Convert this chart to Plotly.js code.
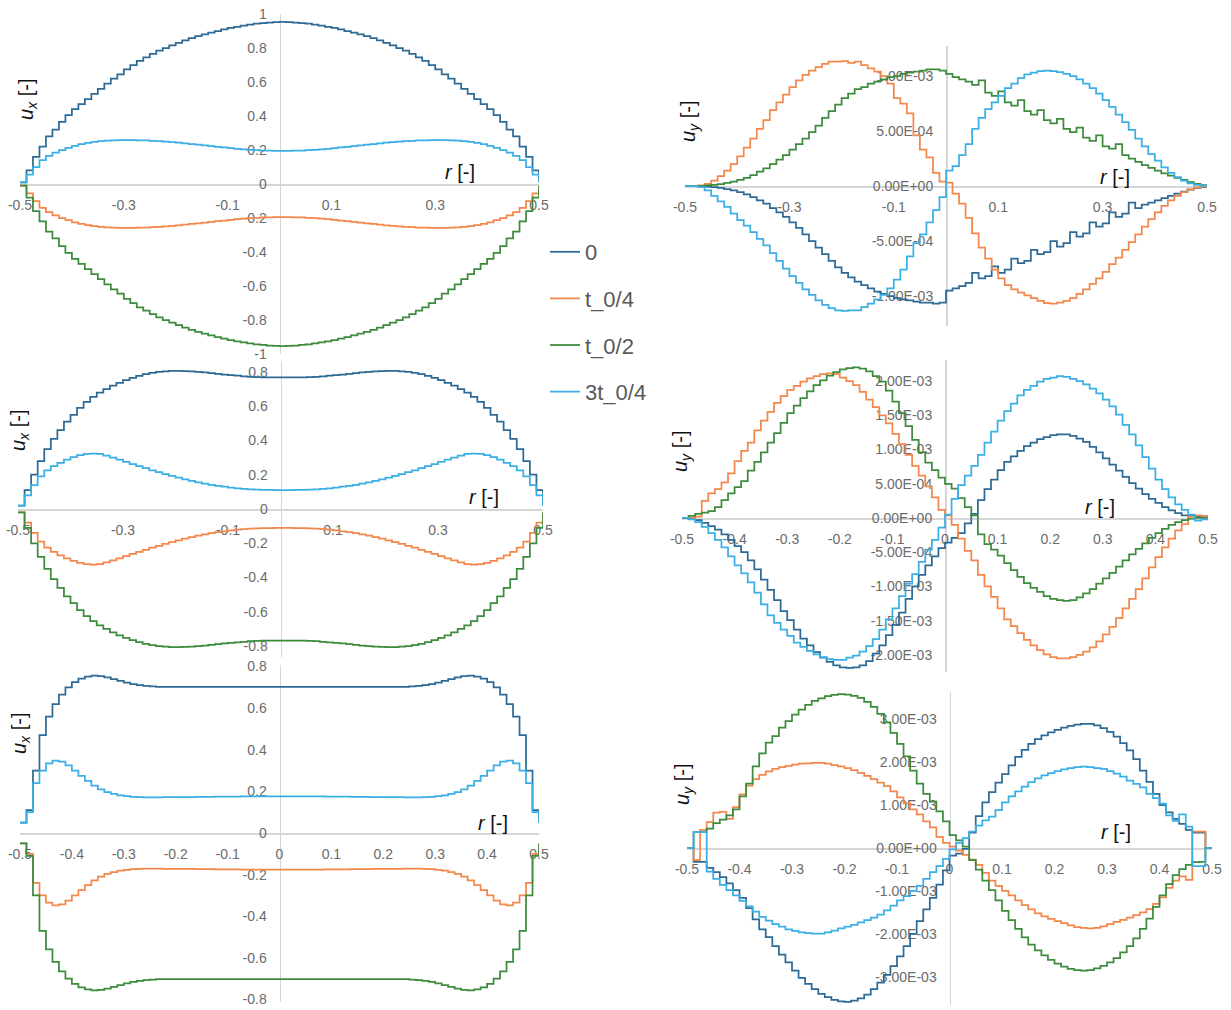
<!DOCTYPE html>
<html>
<head>
<meta charset="utf-8">
<script src="https://cdn.plot.ly/plotly-3.0.1.min.js"></script>
<style>
  html, body { margin: 0; padding: 0; background: #ffffff; }
  #chart { width: 1231px; height: 1010px; }
</style>
</head>
<body>
<div id="chart"></div>
<script>
// Radial position across the channel
const r = [-0.5,-0.4875,-0.475,-0.4625,-0.45,-0.4375,-0.425,-0.4125,-0.4,-0.3875,-0.375,-0.3625,-0.35,-0.3375,-0.325,-0.3125,-0.3,-0.2875,-0.275,-0.2625,-0.25,-0.2375,-0.225,-0.2125,-0.2,-0.1875,-0.175,-0.1625,-0.15,-0.1375,-0.125,-0.1125,-0.1,-0.0875,-0.075,-0.0625,-0.05,-0.0375,-0.025,-0.0125,0,0.0125,0.025,0.0375,0.05,0.0625,0.075,0.0875,0.1,0.1125,0.125,0.1375,0.15,0.1625,0.175,0.1875,0.2,0.2125,0.225,0.2375,0.25,0.2625,0.275,0.2875,0.3,0.3125,0.325,0.3375,0.35,0.3625,0.375,0.3875,0.4,0.4125,0.425,0.4375,0.45,0.4625,0.475,0.4875,0.5];

// Phase labels
const phases = ['0', 't_0/4', 't_0/2', '3t_0/4'];

// ---- u_x profiles, case 1 ----
const ux1_0  = [0.01,0.08,0.16,0.22,0.28,0.32,0.365,0.405,0.44,0.47,0.50,0.53,0.56,0.59,0.62,0.645,0.675,0.70,0.725,0.745,0.765,0.785,0.80,0.815,0.83,0.845,0.858,0.87,0.88,0.89,0.90,0.91,0.918,0.925,0.932,0.938,0.943,0.947,0.95,0.952,0.953,0.952,0.95,0.947,0.943,0.938,0.932,0.925,0.918,0.91,0.90,0.89,0.88,0.87,0.858,0.845,0.83,0.815,0.80,0.785,0.765,0.745,0.725,0.70,0.675,0.645,0.62,0.59,0.56,0.53,0.50,0.47,0.44,0.405,0.365,0.32,0.28,0.22,0.16,0.08,0.01];
const ux1_q1 = [-0.01,-0.055,-0.10,-0.14,-0.165,-0.185,-0.20,-0.213,-0.225,-0.235,-0.242,-0.248,-0.252,-0.255,-0.257,-0.258,-0.258,-0.258,-0.257,-0.256,-0.254,-0.252,-0.249,-0.246,-0.243,-0.239,-0.235,-0.231,-0.227,-0.223,-0.219,-0.215,-0.211,-0.207,-0.204,-0.201,-0.199,-0.197,-0.196,-0.195,-0.195,-0.195,-0.196,-0.197,-0.199,-0.201,-0.204,-0.207,-0.211,-0.215,-0.219,-0.223,-0.227,-0.231,-0.235,-0.239,-0.243,-0.246,-0.249,-0.252,-0.254,-0.256,-0.257,-0.258,-0.258,-0.258,-0.257,-0.255,-0.252,-0.248,-0.242,-0.235,-0.225,-0.213,-0.20,-0.185,-0.165,-0.14,-0.10,-0.055,-0.01];
const ux1_q2 = [-0.01,-0.08,-0.16,-0.22,-0.28,-0.32,-0.365,-0.405,-0.44,-0.47,-0.50,-0.53,-0.56,-0.59,-0.62,-0.645,-0.675,-0.70,-0.725,-0.745,-0.765,-0.785,-0.80,-0.815,-0.83,-0.845,-0.858,-0.87,-0.88,-0.89,-0.90,-0.91,-0.918,-0.925,-0.932,-0.938,-0.943,-0.947,-0.95,-0.952,-0.953,-0.952,-0.95,-0.947,-0.943,-0.938,-0.932,-0.925,-0.918,-0.91,-0.90,-0.89,-0.88,-0.87,-0.858,-0.845,-0.83,-0.815,-0.80,-0.785,-0.765,-0.745,-0.725,-0.70,-0.675,-0.645,-0.62,-0.59,-0.56,-0.53,-0.50,-0.47,-0.44,-0.405,-0.365,-0.32,-0.28,-0.22,-0.16,-0.08,-0.01];
const ux1_q3 = [0.01,0.055,0.10,0.14,0.165,0.185,0.20,0.213,0.225,0.235,0.242,0.248,0.252,0.255,0.257,0.258,0.258,0.258,0.257,0.256,0.254,0.252,0.249,0.246,0.243,0.239,0.235,0.231,0.227,0.223,0.219,0.215,0.211,0.207,0.204,0.201,0.199,0.197,0.196,0.195,0.195,0.195,0.196,0.197,0.199,0.201,0.204,0.207,0.211,0.215,0.219,0.223,0.227,0.231,0.235,0.239,0.243,0.246,0.249,0.252,0.254,0.256,0.257,0.258,0.258,0.258,0.257,0.255,0.252,0.248,0.242,0.235,0.225,0.213,0.20,0.185,0.165,0.14,0.10,0.055,0.01];

// ---- u_x profiles, case 2 ----
const ux2_0  = [0.02,0.11,0.20,0.28,0.35,0.41,0.46,0.51,0.55,0.59,0.625,0.655,0.68,0.70,0.72,0.737,0.752,0.765,0.777,0.787,0.795,0.80,0.804,0.806,0.806,0.805,0.803,0.80,0.797,0.793,0.789,0.785,0.781,0.778,0.775,0.772,0.77,0.769,0.768,0.768,0.768,0.768,0.768,0.769,0.77,0.772,0.775,0.778,0.781,0.785,0.789,0.793,0.797,0.80,0.803,0.805,0.806,0.806,0.804,0.80,0.795,0.787,0.777,0.765,0.752,0.737,0.72,0.70,0.68,0.655,0.625,0.59,0.55,0.51,0.46,0.41,0.35,0.28,0.20,0.11,0.02];
const ux2_q1 = [-0.02,-0.08,-0.14,-0.19,-0.225,-0.25,-0.27,-0.288,-0.303,-0.315,-0.322,-0.324,-0.322,-0.312,-0.30,-0.288,-0.275,-0.262,-0.25,-0.238,-0.226,-0.215,-0.204,-0.193,-0.183,-0.173,-0.164,-0.156,-0.148,-0.141,-0.135,-0.13,-0.125,-0.121,-0.118,-0.115,-0.113,-0.112,-0.111,-0.11,-0.11,-0.11,-0.111,-0.112,-0.113,-0.115,-0.118,-0.121,-0.125,-0.13,-0.135,-0.141,-0.148,-0.156,-0.164,-0.173,-0.183,-0.193,-0.204,-0.215,-0.226,-0.238,-0.25,-0.262,-0.275,-0.288,-0.30,-0.312,-0.322,-0.324,-0.322,-0.315,-0.303,-0.288,-0.27,-0.25,-0.225,-0.19,-0.14,-0.08,-0.02];
const ux2_q2 = [-0.02,-0.11,-0.20,-0.28,-0.35,-0.41,-0.46,-0.51,-0.55,-0.59,-0.625,-0.655,-0.68,-0.70,-0.72,-0.737,-0.752,-0.765,-0.777,-0.787,-0.795,-0.80,-0.804,-0.806,-0.806,-0.805,-0.803,-0.80,-0.797,-0.793,-0.789,-0.785,-0.781,-0.778,-0.775,-0.772,-0.77,-0.769,-0.768,-0.768,-0.768,-0.768,-0.768,-0.769,-0.77,-0.772,-0.775,-0.778,-0.781,-0.785,-0.789,-0.793,-0.797,-0.80,-0.803,-0.805,-0.806,-0.806,-0.804,-0.80,-0.795,-0.787,-0.777,-0.765,-0.752,-0.737,-0.72,-0.70,-0.68,-0.655,-0.625,-0.59,-0.55,-0.51,-0.46,-0.41,-0.35,-0.28,-0.20,-0.11,-0.02];
const ux2_q3 = [0.02,0.08,0.14,0.19,0.225,0.25,0.27,0.288,0.303,0.315,0.322,0.324,0.322,0.312,0.30,0.288,0.275,0.262,0.25,0.238,0.226,0.215,0.204,0.193,0.183,0.173,0.164,0.156,0.148,0.141,0.135,0.13,0.125,0.121,0.118,0.115,0.113,0.112,0.111,0.11,0.11,0.11,0.111,0.112,0.113,0.115,0.118,0.121,0.125,0.13,0.135,0.141,0.148,0.156,0.164,0.173,0.183,0.193,0.204,0.215,0.226,0.238,0.25,0.262,0.275,0.288,0.30,0.312,0.322,0.324,0.322,0.315,0.303,0.288,0.27,0.25,0.225,0.19,0.14,0.08,0.02];

// ---- u_x profiles, case 3 ----
const ux3_0  = [0.05,0.11,0.30,0.47,0.56,0.62,0.665,0.70,0.725,0.742,0.752,0.756,0.754,0.748,0.74,0.731,0.723,0.716,0.711,0.707,0.705,0.703,0.702,0.702,0.702,0.702,0.702,0.702,0.702,0.702,0.702,0.702,0.702,0.702,0.702,0.702,0.702,0.702,0.702,0.702,0.702,0.702,0.702,0.702,0.702,0.702,0.702,0.702,0.702,0.702,0.702,0.702,0.702,0.702,0.702,0.702,0.702,0.702,0.702,0.703,0.705,0.707,0.711,0.716,0.723,0.731,0.74,0.748,0.754,0.756,0.752,0.742,0.725,0.70,0.665,0.62,0.56,0.47,0.30,0.11,0.05];
const ux3_q1 = [-0.05,-0.10,-0.24,-0.30,-0.335,-0.348,-0.343,-0.325,-0.30,-0.275,-0.25,-0.228,-0.21,-0.197,-0.188,-0.181,-0.177,-0.174,-0.172,-0.171,-0.171,-0.171,-0.172,-0.172,-0.173,-0.173,-0.173,-0.174,-0.174,-0.174,-0.175,-0.175,-0.175,-0.175,-0.176,-0.176,-0.176,-0.176,-0.176,-0.176,-0.176,-0.176,-0.176,-0.176,-0.176,-0.176,-0.176,-0.175,-0.175,-0.175,-0.175,-0.174,-0.174,-0.174,-0.173,-0.173,-0.173,-0.172,-0.172,-0.171,-0.171,-0.171,-0.172,-0.174,-0.177,-0.181,-0.188,-0.197,-0.21,-0.228,-0.25,-0.275,-0.30,-0.325,-0.343,-0.348,-0.335,-0.30,-0.24,-0.10,-0.05];
const ux3_q2 = [-0.05,-0.11,-0.30,-0.47,-0.56,-0.62,-0.665,-0.70,-0.725,-0.742,-0.752,-0.756,-0.754,-0.748,-0.74,-0.731,-0.723,-0.716,-0.711,-0.707,-0.705,-0.703,-0.702,-0.702,-0.702,-0.702,-0.702,-0.702,-0.702,-0.702,-0.702,-0.702,-0.702,-0.702,-0.702,-0.702,-0.702,-0.702,-0.702,-0.702,-0.702,-0.702,-0.702,-0.702,-0.702,-0.702,-0.702,-0.702,-0.702,-0.702,-0.702,-0.702,-0.702,-0.702,-0.702,-0.702,-0.702,-0.702,-0.702,-0.703,-0.705,-0.707,-0.711,-0.716,-0.723,-0.731,-0.74,-0.748,-0.754,-0.756,-0.752,-0.742,-0.725,-0.70,-0.665,-0.62,-0.56,-0.47,-0.30,-0.11,-0.05];
const ux3_q3 = [0.05,0.10,0.24,0.30,0.335,0.348,0.343,0.325,0.30,0.275,0.25,0.228,0.21,0.197,0.188,0.181,0.177,0.174,0.172,0.171,0.171,0.171,0.172,0.172,0.173,0.173,0.173,0.174,0.174,0.174,0.175,0.175,0.175,0.175,0.176,0.176,0.176,0.176,0.176,0.176,0.176,0.176,0.176,0.176,0.176,0.176,0.176,0.175,0.175,0.175,0.175,0.174,0.174,0.174,0.173,0.173,0.173,0.172,0.172,0.171,0.171,0.171,0.172,0.174,0.177,0.181,0.188,0.197,0.21,0.228,0.25,0.275,0.30,0.325,0.343,0.348,0.335,0.30,0.24,0.10,0.05];

// ---- u_y profiles (values in units of 1e-4) ----
const UY_UNIT = 1e-4;
const uy1_0  = [0,0,-0.02,-0.05,-0.1,-0.18,-0.28,-0.4,-0.55,-0.75,-1.0,-1.3,-1.6,-2.0,-2.4,-2.8,-3.3,-3.8,-4.4,-5.0,-5.6,-6.2,-6.8,-7.4,-7.9,-8.3,-8.7,-9.0,-9.3,-9.6,-9.8,-10.0,-10.2,-10.3,-10.4,-10.5,-10.6,-10.6,-10.7,-10.6,-9.5,-9.3,-9.1,-8.8,-7.9,-8.4,-8.2,-7.3,-7.9,-7.6,-6.6,-7.0,-6.8,-5.8,-6.2,-6.0,-5.0,-5.5,-5.2,-4.2,-4.6,-4.3,-3.3,-3.7,-3.4,-2.4,-2.8,-2.5,-1.5,-2.0,-1.7,-1.5,-1.3,-1.1,-0.9,-0.7,-0.5,-0.33,-0.18,-0.07,0];
const uy1_q1 = [0,0,0.05,0.2,0.5,0.9,1.4,2.0,2.7,3.5,4.3,5.2,6.0,6.9,7.6,8.3,9.0,9.6,10.1,10.5,10.8,11.1,11.3,11.3,11.35,11.2,11.3,11.0,10.7,10.4,10.0,9.3,8.0,7.5,6.6,4.6,3.3,2.6,1.2,0.4,0.3,-0.7,-1.6,-2.9,-4.3,-5.6,-6.6,-7.6,-8.4,-9.0,-9.4,-9.7,-9.95,-10.2,-10.45,-10.65,-10.7,-10.6,-10.45,-10.2,-9.8,-9.4,-8.9,-8.4,-7.8,-7.1,-6.5,-5.8,-5.1,-4.4,-3.7,-3.0,-2.4,-1.8,-1.3,-0.9,-0.55,-0.3,-0.12,-0.03,0];
const uy1_q2 = [0,0,0.02,0.05,0.1,0.18,0.28,0.4,0.55,0.75,1.0,1.3,1.6,2.0,2.4,2.8,3.3,3.8,4.3,4.9,5.5,6.2,6.8,7.4,8.0,8.4,8.8,9.0,9.3,9.5,9.7,9.9,10.0,10.2,10.3,10.4,10.5,10.6,10.6,10.5,10.2,9.9,9.7,9.5,9.2,9.6,8.5,8.2,8.6,7.6,7.3,7.8,6.8,6.5,6.9,6.0,5.7,6.1,5.2,4.9,5.3,4.4,4.1,4.6,3.6,3.4,3.8,2.8,2.5,2.2,1.9,1.65,1.4,1.15,0.95,0.75,0.55,0.35,0.2,0.08,0];
const uy1_q3 = [0,0,-0.1,-0.4,-0.9,-1.4,-1.9,-2.5,-3.1,-3.6,-4.2,-4.8,-5.4,-6.1,-6.8,-7.5,-8.2,-8.8,-9.4,-9.9,-10.4,-10.8,-11.1,-11.3,-11.35,-11.3,-11.3,-11.0,-10.7,-10.3,-9.9,-9.3,-8.5,-7.6,-6.4,-5.2,-4.4,-3.3,-2.2,-1.0,1.4,1.8,2.8,3.8,5.2,6.2,7.0,7.6,8.2,8.9,9.3,9.8,10.15,10.3,10.45,10.5,10.45,10.35,10.2,10.0,9.7,9.3,8.9,8.4,7.8,7.2,6.5,5.8,5.1,4.3,3.6,2.9,2.3,1.7,1.2,0.8,0.5,0.25,0.1,0.03,0];

const uy2_0  = [0,-0.1,-0.3,-0.7,-1.2,-1.7,-2.4,-3.2,-4.1,-5.0,-6.2,-7.5,-9.0,-10.5,-12.0,-13.6,-14.9,-16.3,-17.6,-18.6,-19.6,-20.4,-21.0,-21.5,-21.8,-21.9,-21.8,-21.5,-20.9,-19.8,-18.6,-17.1,-15.6,-13.8,-11.8,-10.0,-8.3,-6.9,-5.6,-4.4,-3.6,-2.9,-2.2,-0.8,0.6,2.6,4.2,5.6,7.0,8.2,9.0,9.8,10.5,11.0,11.5,11.8,12.1,12.2,12.2,12.0,11.6,11.1,10.4,9.6,8.7,7.8,6.9,6.0,5.1,4.3,3.5,2.8,2.2,1.6,1.1,0.7,0.4,0.3,0.2,0.1,0];
const uy2_q1 = [0,0,0.2,2.5,3.6,4.2,5.2,6.5,8.3,9.8,11.0,12.8,14.2,15.5,16.8,17.8,18.7,19.3,19.9,20.4,20.7,21.0,21.1,21.0,20.5,20.0,19.4,18.4,17.3,16.2,15.0,13.8,12.3,10.8,9.2,7.6,6.2,4.6,3.0,1.2,0.4,-1.0,-3.0,-4.8,-6.2,-8.3,-10.0,-11.5,-13.2,-14.8,-15.8,-16.8,-17.8,-18.6,-19.3,-19.9,-20.3,-20.5,-20.5,-20.3,-20.0,-19.5,-18.9,-18.0,-17.0,-15.9,-14.6,-13.2,-11.8,-10.4,-8.8,-7.2,-5.7,-4.3,-3.0,-1.8,-0.9,0.2,0.4,0.3,0];
const uy2_q2 = [0,0.3,0.6,0.8,1.0,1.6,2.6,3.6,4.5,5.4,6.9,8.2,9.6,11.0,12.4,13.9,15.3,16.4,17.5,18.5,19.4,20.1,20.8,21.3,21.7,21.9,22.0,21.8,21.4,20.7,19.9,18.6,17.0,15.3,13.4,11.4,9.6,8.1,7.0,5.9,5.0,4.3,2.9,1.6,0.4,-2.4,-3.8,-4.6,-5.5,-6.6,-7.6,-8.6,-9.5,-10.2,-10.8,-11.4,-11.8,-12.0,-12.1,-12.0,-11.6,-11.0,-10.4,-9.6,-8.8,-8.0,-7.1,-6.2,-5.3,-4.5,-3.7,-2.9,-2.2,-1.6,-1.0,-0.6,-0.3,-0.1,0,0,0];
const uy2_q3 = [0,-0.2,-0.6,-1.3,-2.2,-3.2,-4.3,-5.6,-6.9,-8.1,-9.4,-10.9,-12.6,-14.2,-15.3,-16.3,-17.2,-18.2,-18.8,-19.4,-19.9,-20.3,-20.6,-20.7,-20.7,-20.4,-20.1,-19.5,-18.7,-17.7,-16.3,-14.8,-13.2,-11.4,-9.6,-8.2,-6.4,-4.6,-3.2,-1.4,0.5,2.8,4.8,6.2,7.6,9.2,11.0,12.6,14.2,15.6,16.7,17.9,18.7,19.3,19.9,20.3,20.5,20.7,20.6,20.3,20.0,19.5,18.9,18.2,17.3,16.3,15.1,13.6,12.2,10.6,8.9,7.2,5.6,4.2,3.0,2.0,1.2,0.5,-0.4,-0.2,0];

const uy3_0  = [0,-3.2,-3.2,-4.6,-5.6,-6.8,-8.2,-9.8,-11.6,-14.0,-16.6,-18.9,-20.7,-22.8,-24.8,-26.6,-28.5,-30.2,-31.6,-32.8,-33.9,-34.7,-35.3,-35.7,-35.8,-35.5,-35.0,-34.1,-32.8,-31.3,-29.5,-27.5,-25.2,-22.8,-20.0,-17.0,-14.3,-11.6,-8.5,-5.2,-1.8,-1.3,-0.2,3.6,7.4,10.6,13.0,15.2,17.2,19.2,21.2,22.8,24.2,25.3,26.2,26.9,27.5,28.0,28.4,28.7,28.9,28.9,28.5,27.9,27.0,25.9,24.4,22.7,20.7,18.0,15.4,12.6,10.0,8.3,6.8,5.6,4.2,3.6,3.6,0,0];
const uy3_q1 = [0,-2.8,4.2,6.0,8.2,8.4,6.8,9.5,12.5,14.5,16.0,17.0,17.8,18.4,18.8,19.1,19.4,19.6,19.7,19.8,19.8,19.6,19.3,19.0,18.6,18.1,17.5,16.8,16.0,15.2,14.4,13.2,11.8,10.4,9.0,7.8,6.2,4.8,2.6,1.2,0.3,-0.6,-1.6,-2.7,-3.9,-5.8,-7.6,-8.8,-10.0,-11.0,-12.2,-13.3,-14.3,-15.2,-15.9,-16.5,-17.0,-17.5,-18.0,-18.4,-18.6,-18.7,-18.6,-18.2,-17.7,-17.2,-16.7,-16.2,-15.6,-15.0,-14.2,-13.0,-11.5,-9.3,-7.6,-6.6,-7.4,3.8,3.8,0,0];
const uy3_q2 = [0,3.7,3.7,4.5,5.8,6.6,7.6,9.0,12.0,15.0,19.0,22.0,24.5,26.0,28.0,29.5,31.0,32.2,33.3,34.2,34.8,35.3,35.6,35.8,35.7,35.4,34.9,34.0,32.8,31.2,29.2,26.8,24.2,21.3,18.0,15.0,12.6,10.8,8.5,6.2,3.0,1.8,0.3,-2.8,-5.0,-7.6,-9.8,-12.2,-14.6,-16.8,-18.8,-20.8,-22.5,-23.8,-25.0,-26.0,-26.9,-27.6,-28.1,-28.4,-28.5,-28.4,-28.0,-27.4,-26.6,-25.6,-24.3,-22.8,-21.0,-18.8,-16.4,-13.7,-11.0,-8.4,-6.3,-4.9,-3.9,-3.3,-3.2,0,0];
const uy3_q3 = [0,3.7,3.7,-5.5,-7.2,-8.6,-9.8,-11.0,-12.3,-13.6,-14.8,-16.0,-16.9,-17.7,-18.3,-18.9,-19.3,-19.6,-19.8,-19.9,-19.9,-19.6,-19.2,-18.7,-18.3,-17.9,-17.3,-16.8,-16.2,-15.5,-14.5,-13.4,-12.2,-11.2,-10.0,-8.8,-7.2,-5.6,-4.2,-2.5,-0.3,1.2,2.3,3.8,5.2,6.4,7.3,8.8,10.6,12.0,13.2,14.3,15.3,16.2,16.9,17.4,17.9,18.3,18.6,18.8,18.9,18.8,18.6,18.4,17.9,17.3,16.6,15.7,14.9,14.1,12.6,11.6,10.3,7.6,6.3,7.8,5.0,-4.2,-4.2,0,0];

// ---- tick values and labels ----
const rTicksOdd     = [-0.5, -0.3, -0.1, 0.1, 0.3, 0.5];
const rTicksOddText = ['-0.5', '-0.3', '-0.1', '0.1', '0.3', '0.5'];
const rTicksAll     = [-0.5, -0.4, -0.3, -0.2, -0.1, 0, 0.1, 0.2, 0.3, 0.4, 0.5];
const rTicksAllText = ['-0.5', '-0.4', '-0.3', '-0.2', '-0.1', '0', '0.1', '0.2', '0.3', '0.4', '0.5'];
const ux1Ticks      = [-1, -0.8, -0.6, -0.4, -0.2, 0, 0.2, 0.4, 0.6, 0.8, 1];
const ux1TickText   = ['-1', '-0.8', '-0.6', '-0.4', '-0.2', '0', '0.2', '0.4', '0.6', '0.8', '1'];
const ux23Ticks     = [-0.8, -0.6, -0.4, -0.2, 0, 0.2, 0.4, 0.6, 0.8];
const ux23TickText  = ['-0.8', '-0.6', '-0.4', '-0.2', '0', '0.2', '0.4', '0.6', '0.8'];
const uy1Ticks      = [-1e-3, -5e-4, 0, 5e-4, 1e-3];
const uy1TickText   = ['-1.00E-03', '-5.00E-04', '0.00E+00', '5.00E-04', '1.00E-03'];
const uy2Ticks      = [-2e-3, -1.5e-3, -1e-3, -5e-4, 0, 5e-4, 1e-3, 1.5e-3, 2e-3];
const uy2TickText   = ['-2.00E-03', '-1.50E-03', '-1.00E-03', '-5.00E-04', '0.00E+00', '5.00E-04', '1.00E-03', '1.50E-03', '2.00E-03'];
const uy3Ticks      = [-3e-3, -2e-3, -1e-3, 0, 1e-3, 2e-3, 3e-3];
const uy3TickText   = ['-3.00E-03', '-2.00E-03', '-1.00E-03', '0.00E+00', '1.00E-03', '2.00E-03', '3.00E-03'];

// ---- drawing ----
const W = 1231, H = 1010;
const lineColors = ['#2d6a96', '#f4874b', '#3d8b3d', '#3aafe6'];
const tickFont = { family: 'Liberation Sans, Arial, sans-serif', size: 14, color: '#6b6b6b' };
const titleFont = { family: 'Liberation Sans, Arial, sans-serif', size: 20, color: '#111111' };

const toUy = arr => arr.map(v => v * UY_UNIT);

// panel frames in pixels: left, right, top, bottom, plus value range
const panels = [
  { px: [20, 539],   py: [14, 354],      yr: [-1, 1],            ys: [ux1_0, ux1_q1, ux1_q2, ux1_q3], xt: [rTicksOdd, rTicksOddText], yt: [ux1Ticks, ux1TickText], ylab: 'x', rlab: [460, 172], ulab: [28, 100] },
  { px: [18, 543],   py: [361, 657],     yr: [-0.864, 0.864],    ys: [ux2_0, ux2_q1, ux2_q2, ux2_q3], xt: [rTicksOdd, rTicksOddText], yt: [ux23Ticks, ux23TickText], ylab: 'x', rlab: [484, 497], ulab: [20, 430] },
  { px: [20, 539],   py: [664.5, 1001.5],yr: [-0.81, 0.81],      ys: [ux3_0, ux3_q1, ux3_q2, ux3_q3], xt: [rTicksAll, rTicksAllText], yt: [ux23Ticks, ux23TickText], ylab: 'x', rlab: [493, 823], ulab: [20, 733] },
  { px: [685, 1207], py: [46.3, 325.7],  yr: [-1.27e-3, 1.27e-3], ys: [uy1_0, uy1_q1, uy1_q2, uy1_q3].map(toUy), xt: [rTicksOdd, rTicksOddText], yt: [uy1Ticks, uy1TickText], ylab: 'y', rlab: [1115, 177], ulab: [689, 122] },
  { px: [682, 1208], py: [359.8, 672.1], yr: [-2.25e-3, 2.31e-3], ys: [uy2_0, uy2_q1, uy2_q2, uy2_q3].map(toUy), xt: [rTicksAll, rTicksAllText], yt: [uy2Ticks, uy2TickText], ylab: 'y', rlab: [1100, 507], ulab: [682, 452] },
  { px: [687, 1212], py: [691.5, 1004.5],yr: [-3.64e-3, 3.64e-3], ys: [uy3_0, uy3_q1, uy3_q2, uy3_q3].map(toUy), xt: [rTicksAll, rTicksAllText], yt: [uy3Ticks, uy3TickText], ylab: 'y', rlab: [1116, 832], ulab: [683, 785] }
];

const traces = [];
const layout = {
  width: W, height: H,
  margin: { l: 0, r: 0, t: 0, b: 0 },
  paper_bgcolor: '#ffffff', plot_bgcolor: 'rgba(0,0,0,0)',
  showlegend: true,
  legend: {
    x: 545 / W, y: 1 - 231 / H, xanchor: 'left', yanchor: 'top',
    font: { family: 'Liberation Sans, Arial, sans-serif', size: 22, color: '#595959' },
    bgcolor: 'rgba(0,0,0,0)', borderwidth: 0,
    tracegroupgap: 15, itemwidth: 30, traceorder: 'grouped'
  },
  annotations: []
};

panels.forEach((p, k) => {
  const n = k + 1;
  const xid = n === 1 ? 'x' : 'x' + n;
  const yid = n === 1 ? 'y' : 'y' + n;
  const xdom = [p.px[0] / W, p.px[1] / W];
  const ydom = [1 - p.py[1] / H, 1 - p.py[0] / H];
  const xr = [-0.5, 0.5];
  const yZero = ydom[0] + (0 - p.yr[0]) / (p.yr[1] - p.yr[0]) * (ydom[1] - ydom[0]);
  const xZero = xdom[0] + (0 - xr[0]) / (xr[1] - xr[0]) * (xdom[1] - xdom[0]);

  const common = {
    showgrid: false, zeroline: false, showline: true,
    linecolor: '#d6d6d6', linewidth: 1.5,
    ticks: 'outside', tickcolor: 'rgba(0,0,0,0)',
    tickfont: tickFont, tickmode: 'array',
    layer: 'below traces', fixedrange: true
  };
  layout['xaxis' + (n === 1 ? '' : n)] = Object.assign({}, common, {
    domain: xdom, range: xr, anchor: 'free', position: yZero, side: 'bottom',
    tickvals: p.xt[0], ticktext: p.xt[1], ticklen: 8
  });
  layout['yaxis' + (n === 1 ? '' : n)] = Object.assign({}, common, {
    domain: ydom, range: p.yr, anchor: 'free', position: xZero, side: 'left',
    tickvals: p.yt[0], ticktext: p.yt[1], ticklen: 10
  });

  p.ys.forEach((ys, s) => {
    traces.push({
      type: 'scatter', mode: 'lines',
      x: r, y: ys, xaxis: xid, yaxis: yid,
      name: phases[s], legendgroup: phases[s], showlegend: n === 1,
      line: { color: lineColors[s], width: 1.75, shape: 'hv' },
      hoverinfo: 'skip'
    });
  });

  layout.annotations.push({
    xref: 'paper', yref: 'paper', x: p.rlab[0] / W, y: 1 - p.rlab[1] / H,
    xanchor: 'center', yanchor: 'middle', showarrow: false,
    text: '<i>r</i> [-]', font: titleFont
  });
  layout.annotations.push({
    xref: 'paper', yref: 'paper', x: p.ulab[0] / W, y: 1 - p.ulab[1] / H,
    xanchor: 'center', yanchor: 'middle', showarrow: false, textangle: -90,
    text: '<i>u<sub>' + p.ylab + '</sub></i> [-]', font: titleFont
  });
});

Plotly.newPlot('chart', traces, layout, { displayModeBar: false, staticPlot: true });
</script>
</body>
</html>
